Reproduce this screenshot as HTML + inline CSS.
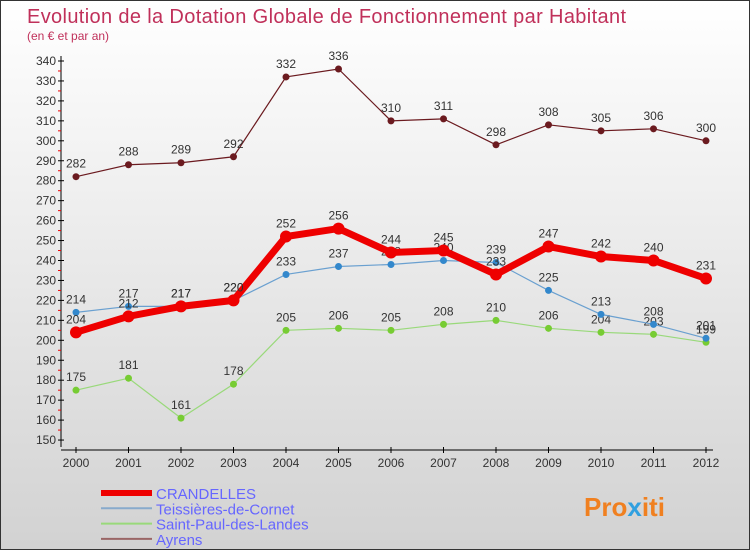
<!DOCTYPE html>
<html><head><meta charset="utf-8"><style>
body{margin:0}
#c{position:relative;width:748px;height:548px;border:1px solid #333;background:linear-gradient(#fff,#d2d2d2);font-family:"Liberation Sans",sans-serif;overflow:hidden}
</style></head><body>
<div id="c">
<svg width="748" height="548">
<text x="26" y="22" font-size="20" textLength="599" lengthAdjust="spacing" fill="#c0305a">Evolution de la Dotation Globale de Fonctionnement par Habitant</text>
<text x="26" y="39" font-size="12" fill="#c0305a">(en € et par an)</text>
<g id="axes"></g><g id="series"></g><g id="legend"></g>
<text x="583" y="515" font-size="26" font-weight="bold" fill="#f08020">Pro<tspan fill="#30a0e0">x</tspan>iti</text>
</svg></div>
<script>
const years=[2000,2001,2002,2003,2004,2005,2006,2007,2008,2009,2010,2011,2012];
const yTicks=[150,160,170,180,190,200,210,220,230,240,250,260,270,280,290,300,310,320,330,340];
const crandelles=[204,212,217,220,252,256,244,245,233,247,242,240,231];
const teissieres=[214,217,217,220,233,237,238,240,239,225,213,208,201];
const saintPaul=[175,181,161,178,205,206,205,208,210,206,204,203,199];
const ayrens=[282,288,289,292,332,336,310,311,298,308,305,306,300];
const NS="http://www.w3.org/2000/svg";
const X=i=>75+i*52.5, Y=v=>60+(340-v)*1.995;
function mk(p,t,a){const e=document.createElementNS(NS,t);for(const k in a)e.setAttribute(k,a[k]);p.appendChild(e);return e;}
const ax=document.getElementById('axes');
let e=mk(ax,'line',{x1:60,y1:55,x2:60,y2:446,stroke:'#000'});


e=mk(ax,'line',{x1:60,y1:449,x2:712,y2:449,stroke:'#000'});


yTicks.forEach(v=>{
 mk(ax,'line',{x1:57,x2:63,y1:Y(v),y2:Y(v),stroke:'#000'});
 if(v<340) mk(ax,'line',{x1:57,x2:60,y1:Y(v+5),y2:Y(v+5),stroke:'#e00'});
 const t=mk(ax,'text',{x:55,y:Y(v)+4,'text-anchor':'end','font-size':12,fill:'#333'});t.textContent=v;
 
 
});
years.forEach((yr,i)=>{
 mk(ax,'line',{x1:X(i),x2:X(i),y1:446,y2:452,stroke:'#000'});
 const t=mk(ax,'text',{x:X(i),y:466,'text-anchor':'middle','font-size':12,fill:'#333'});t.textContent=yr;
 
 
});
const S=[
 {d:ayrens,c:'#6b1a1f',w:1.2,r:3.5,n:'ayrens',lc:'#9a6666'},
 {d:saintPaul,c:'#99d97a',w:1.2,r:3.5,n:'saint-paul-des-landes',fc:'#77cc33',lc:'#99d97a'},
 {d:teissieres,c:'#6aa0d0',w:1.2,r:3.5,n:'teissieres-de-cornet',fc:'#3388cc',lc:'#88aacc'},
 {d:crandelles,c:'#ee0000',w:7,r:6,n:'crandelles',lc:'#ee0000'}];
const sg=document.getElementById('series');
S.forEach(s=>{
 const g=mk(sg,'g',{});
 
 
 const l=mk(g,'polyline',{points:s.d.map((v,i)=>X(i)+','+Y(v)).join(' '),fill:'none',stroke:s.c,'stroke-width':s.w});
 
 
 s.d.forEach((v,i)=>{
  const p=mk(g,'circle',{cx:X(i),cy:Y(v),r:s.r,fill:s.fc||s.c});
  
  
  const t=mk(g,'text',{x:X(i),y:Y(v)-9,'text-anchor':'middle','font-size':12,fill:'#333'});t.textContent=v;
  
  
 });
});
const lg=document.getElementById('legend');
const L=[['CRANDELLES','#ee0000',6],['Teissières-de-Cornet','#88aacc',2],['Saint-Paul-des-Landes','#99d97a',2],['Ayrens','#9a6666',2]];
L.forEach((it,i)=>{
 const y=492+i*15.3;
 const r=mk(lg,'line',{x1:100,x2:151,y1:y,y2:y,stroke:it[1],'stroke-width':it[2]});
 
 
 const t=mk(lg,'text',{x:155,y:y+6,'font-size':15,fill:'#6666ff'});t.textContent=it[0];
 
 
});
</script>
</body></html>
